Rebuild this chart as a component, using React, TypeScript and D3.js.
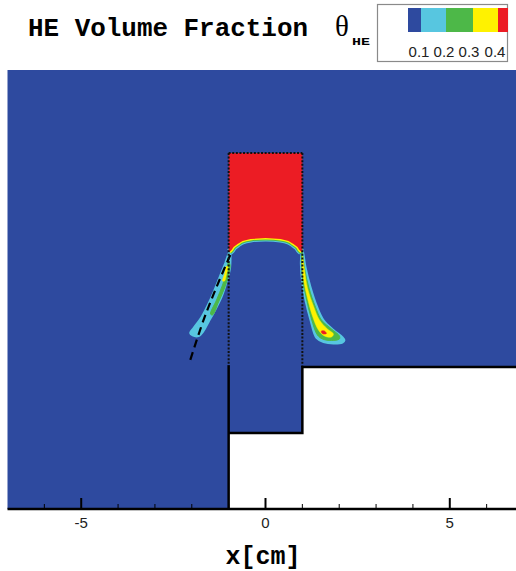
import React from 'react';
import * as d3 from 'd3';

const W = 516;
const H = 571;

// axis domain (cm)
const xDomain: [number, number] = [-7, 7];
const yDomain: [number, number] = [-3.85, 8.05];
const majorTicks = [-5, 0, 5];
const minorTicks = [-6, -4, -3, -2, -1, 1, 2, 3, 4, 6];

// legend
const legendLabels = ['0.1', '0.2', '0.3', '0.4'];
const levelColors = ['#2e4a9f', '#57c6e0', '#4db848', '#fff200', '#ec1c24'];

// geometry of the computational domain (cm)
const domainOutline: [number, number][] = [
  [-7, 8.05], [7, 8.05], [7, 0], [1, 0], [1, -1.79], [-1, -1.79], [-1, -3.85], [-7, -3.85],
];
const stepY = 0;
const channelBottomY = -1.79;
const bottomY = -3.85;
const heTop = 5.8;

// HE / air interface (lower boundary of the red slug), left to right
const archProfile: [number, number][] = [
  [-0.976, 3.117], [-0.921, 3.171], [-0.867, 3.252], [-0.759, 3.333], [-0.623, 3.415],
  [-0.407, 3.469], [0, 3.496], [0.407, 3.469], [0.623, 3.415], [0.759, 3.333],
  [0.867, 3.252], [0.921, 3.171], [0.976, 3.117],
];

// contour polygons of volume fraction (cm)
const leftPlume01: [number, number][] = [
  [-0.957, 3.171], [-1.092, 2.818], [-1.274, 2.358], [-1.499, 1.816], [-1.734, 1.355],
  [-1.951, 1.057], [-2.046, 0.921], [-1.978, 0.854], [-1.816, 0.84], [-1.68, 0.976],
  [-1.545, 1.22], [-1.409, 1.463], [-1.192, 1.897], [-1.057, 2.304], [-0.962, 2.683],
  [-0.949, 2.954],
];
const leftPlume02: [number, number][] = [
  [-1.003, 2.846], [-1.057, 2.575], [-1.165, 2.222], [-1.328, 1.816], [-1.491, 1.436],
  [-1.436, 1.409], [-1.274, 1.762], [-1.111, 2.141], [-1.003, 2.493], [-0.962, 2.764],
];
const leftPlume03: [number, number][] = [
  [-1.057, 2.737], [-1.111, 2.52], [-1.165, 2.331], [-1.111, 2.331], [-1.057, 2.52], [-1.016, 2.71],
];
const rightPlume01: [number, number][] = [
  [1.003, 3.171], [1.084, 2.71], [1.22, 2.168], [1.401, 1.626], [1.572, 1.274],
  [1.843, 1.003], [2.079, 0.813], [2.141, 0.718], [2.087, 0.664], [1.843, 0.637],
  [1.572, 0.678], [1.382, 0.786], [1.22, 1.274], [1.084, 1.816], [0.989, 2.358], [0.962, 2.9],
];
const rightPlume02: [number, number][] = [
  [0.989, 3.117], [1.057, 2.683], [1.179, 2.141], [1.355, 1.626], [1.518, 1.274],
  [1.789, 1.03], [2.005, 0.84], [2.005, 0.759], [1.789, 0.718], [1.545, 0.759],
  [1.409, 0.867], [1.247, 1.301], [1.111, 1.843], [1.016, 2.358], [0.976, 2.846],
];
const rightPlume03: [number, number][] = [
  [1.003, 3.008], [1.057, 2.629], [1.138, 2.141], [1.301, 1.653], [1.463, 1.274],
  [1.68, 1.03], [1.843, 0.894], [1.789, 0.813], [1.599, 0.84], [1.436, 1.003],
  [1.274, 1.382], [1.138, 1.87], [1.043, 2.304], [0.989, 2.764],
];
const rightPlume04: [number, number][] = [
  [1.518, 0.976], [1.599, 0.976], [1.653, 0.908], [1.572, 0.894], [1.518, 0.935],
];

// dashed reference line
const dashedLine: [number, number][] = [
  [-0.957, 3.035], [-1.328, 2.168], [-1.68, 1.274], [-2.041, 0.19],
];

export default function App() {
  const x = d3.scaleLinear().domain(xDomain).range([7.5, 523.5]);
  const y = d3.scaleLinear().domain(yDomain).range([509, 70]);

  const linePath = d3.line<[number, number]>().x(d => x(d[0])).y(d => y(d[1]));
  const closedSmooth = d3
    .line<[number, number]>()
    .x(d => x(d[0]))
    .y(d => y(d[1]))
    .curve(d3.curveCatmullRomClosed.alpha(0.5));
  const smooth = d3
    .line<[number, number]>()
    .x(d => x(d[0]))
    .y(d => y(d[1]))
    .curve(d3.curveCatmullRom.alpha(0.5));

  const redRegion: [number, number][] = [
    [-1, heTop], [1, heTop], [1, archProfile[archProfile.length - 1][1]],
    ...archProfile.slice().reverse(),
    [-1, archProfile[0][1]],
  ];

  const dotted = { stroke: '#111', strokeWidth: 2, strokeDasharray: '2 1.6', fill: 'none' };
  const solid = { stroke: '#000', strokeWidth: 2.5, fill: 'none' };

  const barX0 = 408;
  const barW = [13, 25, 27, 25, 10];
  const barStarts: number[] = [];
  barW.reduce((acc, w) => { barStarts.push(acc); return acc + w; }, barX0);
  const labelCenters = [419, 444, 469, 495];

  const plume = (pts: [number, number][], c: string, grow: number) => (
    <path
      d={closedSmooth(pts) || ''}
      fill={c}
      stroke={c}
      strokeWidth={grow}
      strokeLinejoin="round"
    />
  );

  return (
    <svg
      width={W}
      height={H}
      style={{ position: 'absolute', left: 0, top: 0, background: '#fff' }}
    >
      <defs>
        <clipPath id="plotClip">
          <rect x={0} y={0} width={W} height={H} />
        </clipPath>
      </defs>

      {/* title */}
      <text
        x={28}
        y={36}
        fontFamily="'Liberation Mono', 'Courier New', monospace"
        fontWeight="bold"
        fontSize={26}
        textLength={280}
        lengthAdjust="spacingAndGlyphs"
        fill="#000"
      >
        HE Volume Fraction
      </text>
      <text x={335} y={36} fontFamily="'Liberation Serif', serif" fontSize={29} fill="#000">
        θ
      </text>
      <text
        x={352}
        y={45}
        fontFamily="'Liberation Mono', monospace"
        fontWeight="bold"
        fontSize={10}
        textLength={18}
        lengthAdjust="spacingAndGlyphs"
        fill="#000"
      >
        HE
      </text>

      {/* legend */}
      <rect x={377.5} y={4.5} width={130} height={57} fill="#fff" stroke="#8a8a8a" strokeWidth={1.2} />
      {levelColors.map((c, i) => (
        <rect key={c} x={barStarts[i]} y={8} width={barW[i]} height={24} fill={c} />
      ))}
      {legendLabels.map((t, i) => (
        <text
          key={t}
          x={labelCenters[i]}
          y={57}
          textAnchor="middle"
          fontFamily="'Liberation Sans', Arial, sans-serif"
          fontSize={15}
          fill="#222"
        >
          {t}
        </text>
      ))}

      <g clipPath="url(#plotClip)">
        {/* domain */}
        <path d={linePath(domainOutline) + 'Z'} fill={levelColors[0]} />

        {/* plumes */}
        {plume(leftPlume01, levelColors[1], 2)}
        {plume(leftPlume02, levelColors[2], 1)}
        {plume(leftPlume03, levelColors[3], 0.5)}
        {plume(rightPlume01, levelColors[1], 2)}
        {plume(rightPlume02, levelColors[2], 1)}
        {plume(rightPlume03, levelColors[3], 0.5)}
        {plume(rightPlume04, levelColors[4], 0.5)}

        {/* interface bands */}
        <path d={smooth(archProfile) || ''} fill="none" stroke={levelColors[1]} strokeWidth={7} />
        <path d={smooth(archProfile) || ''} fill="none" stroke={levelColors[2]} strokeWidth={5} />
        <path d={smooth(archProfile) || ''} fill="none" stroke={levelColors[3]} strokeWidth={3} />
        <path d={linePath(redRegion) + 'Z'} fill={levelColors[4]} />

        {/* dashed line */}
        <path
          d={smooth(dashedLine) || ''}
          fill="none"
          stroke="#000"
          strokeWidth={2.2}
          strokeDasharray="8 5"
        />

        {/* dotted outline of the HE slug and channel */}
        <path d={linePath([[-1, heTop], [1, heTop]]) || ''} {...dotted} />
        <path d={linePath([[-1, heTop], [-1, stepY + 0.05]]) || ''} {...dotted} />
        <path d={linePath([[1, heTop], [1, stepY]]) || ''} {...dotted} />

        {/* solid walls */}
        <path d={linePath([[-1, stepY + 0.05], [-1, bottomY]]) || ''} {...solid} />
        <path
          d={linePath([[7, stepY], [1, stepY], [1, channelBottomY], [-1, channelBottomY]]) || ''}
          {...solid}
        />

        {/* axis */}
        <path d={linePath([[xDomain[0], bottomY], [xDomain[1], bottomY]]) || ''} stroke="#000" strokeWidth={2.5} />
        {minorTicks.map(t => (
          <line key={t} x1={x(t)} x2={x(t)} y1={y(bottomY)} y2={y(bottomY) - 5} stroke="#000" strokeWidth={1} />
        ))}
        {majorTicks.map(t => (
          <line key={t} x1={x(t)} x2={x(t)} y1={y(bottomY)} y2={y(bottomY) - 11} stroke="#000" strokeWidth={2} />
        ))}
      </g>
      {majorTicks.map(t => (
        <text
          key={t}
          x={x(t)}
          y={528}
          textAnchor="middle"
          fontFamily="'Liberation Sans', Arial, sans-serif"
          fontSize={15}
          fill="#222"
        >
          {t}
        </text>
      ))}
      <text
        x={263}
        y={564}
        textAnchor="middle"
        fontFamily="'Liberation Mono', 'Courier New', monospace"
        fontWeight="bold"
        fontSize={25}
        fill="#000"
      >
        x[cm]
      </text>
    </svg>
  );
}
